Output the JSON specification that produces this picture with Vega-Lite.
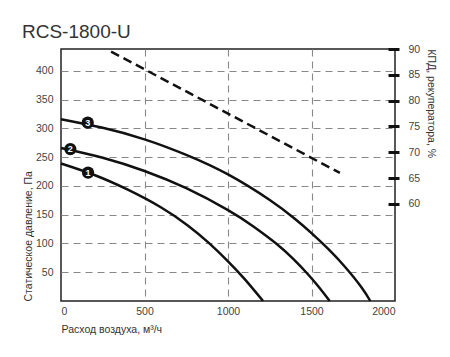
{
  "$schema": "https://vega.github.io/schema/vega-lite/v6.json",
  "width": 334,
  "height": 252,
  "autosize": {"type": "none"},
  "padding": {"left": 61, "top": 49, "right": 55, "bottom": 56},
  "background": "white",
  "config": {
    "font": "Liberation Sans",
    "view": {"stroke": "#222", "strokeWidth": 1.5},
    "axis": {"labelFont": "Liberation Sans", "titleFont": "Liberation Sans", "labelColor": "#444", "titleColor": "#333", "labelFontSize": 10.5, "titleFontSize": 10.5, "titleFontWeight": "normal"}
  },
  "title": {"text": "RCS-1800-U", "anchor": "start", "frame": "group", "dx": -39, "dy": 10, "fontSize": 19, "fontWeight": "normal", "color": "#333", "font": "Liberation Sans", "offset": 12},
  "datasets": {
    "curves": [
      {"flow": 0, "p": 239, "curve": "1"}, {"flow": 200, "p": 219, "curve": "1"}, {"flow": 400, "p": 193.5, "curve": "1"}, {"flow": 600, "p": 162.5, "curve": "1"}, {"flow": 761, "p": 131, "curve": "1"}, {"flow": 885, "p": 101, "curve": "1"}, {"flow": 1000, "p": 69, "curve": "1"}, {"flow": 1100, "p": 38, "curve": "1"}, {"flow": 1210, "p": 0, "curve": "1"},
      {"flow": 0, "p": 266, "curve": "2"}, {"flow": 250, "p": 249, "curve": "2"}, {"flow": 500, "p": 226, "curve": "2"}, {"flow": 750, "p": 196, "curve": "2"}, {"flow": 1000, "p": 158, "curve": "2"}, {"flow": 1150, "p": 130, "curve": "2"}, {"flow": 1290, "p": 99.5, "curve": "2"}, {"flow": 1389, "p": 73.5, "curve": "2"}, {"flow": 1469, "p": 49.5, "curve": "2"}, {"flow": 1539, "p": 26, "curve": "2"}, {"flow": 1609, "p": 0, "curve": "2"},
      {"flow": 0, "p": 316, "curve": "3"}, {"flow": 250, "p": 301, "curve": "3"}, {"flow": 500, "p": 281, "curve": "3"}, {"flow": 750, "p": 254, "curve": "3"}, {"flow": 1000, "p": 220, "curve": "3"}, {"flow": 1250, "p": 175.5, "curve": "3"}, {"flow": 1400, "p": 143, "curve": "3"}, {"flow": 1500, "p": 118, "curve": "3"}, {"flow": 1600, "p": 90.5, "curve": "3"}, {"flow": 1700, "p": 59.5, "curve": "3"}, {"flow": 1800, "p": 23.5, "curve": "3"}, {"flow": 1852, "p": 0, "curve": "3"}
    ],
    "markers": [
      {"flow": 162, "p": 223, "label": "1"},
      {"flow": 56, "p": 264, "label": "2"},
      {"flow": 160, "p": 310, "label": "3"}
    ],
    "eff": [
      {"flow": 300, "eff": 89.5},
      {"flow": 1670, "eff": 66}
    ]
  },
  "encoding": {
    "x": {
      "field": "flow", "type": "quantitative",
      "scale": {"domain": [0, 2000], "nice": false},
      "axis": {
        "values": [0, 500, 1000, 1500, 2000],
        "format": "d",
        "title": "Расход воздуха, м³/ч",
        "titleAnchor": "start", "titleAlign": "left", "titlePadding": 8,
        "domain": false, "ticks": false, "labelPadding": 5,
        "grid": true, "gridColor": "#888", "gridDash": [7, 5], "gridWidth": 1.1,
        "gridOpacity": {"condition": {"test": "datum.value === 0 || datum.value === 2000", "value": 0}, "value": 1}
      }
    }
  },
  "layer": [
    {
      "encoding": {
        "y": {
          "field": "p", "type": "quantitative",
          "scale": {"domain": [0, 438], "nice": false, "zero": true},
          "axis": {
            "values": [50, 100, 150, 200, 250, 300, 350, 400],
            "title": "Статическое давление, Па",
            "titleAnchor": "start", "titlePadding": 2,
            "domain": false, "ticks": false, "labelPadding": 8,
            "grid": true, "gridColor": "#888", "gridDash": [7, 5], "gridWidth": 1.1
          }
        }
      },
      "layer": [
        {
          "data": {"name": "curves"},
          "mark": {"type": "line", "stroke": "#111", "strokeWidth": 2.5, "interpolate": "natural"},
          "encoding": {"detail": {"field": "curve", "type": "nominal"}}
        },
        {
          "data": {"name": "markers"},
          "mark": {"type": "circle", "color": "#111", "opacity": 1, "size": 150}
        },
        {
          "data": {"name": "markers"},
          "mark": {"type": "text", "color": "white", "fontWeight": "bold", "fontSize": 9, "align": "center", "baseline": "middle"},
          "encoding": {"text": {"field": "label"}}
        }
      ]
    },
    {
      "data": {"name": "eff"},
      "mark": {"type": "line", "stroke": "#111", "strokeWidth": 2.5, "strokeDash": [9, 5]},
      "encoding": {
        "y": {
          "field": "eff", "type": "quantitative",
          "scale": {"domain": [41.2, 90], "nice": false, "zero": false},
          "axis": {
            "orient": "right",
            "values": [60, 65, 70, 75, 80, 85, 90],
            "title": "КПД, рекуператора, %",
            "titleAnchor": "end", "titleAlign": "left", "titlePadding": 6,
            "offset": -7, "domain": false,
            "ticks": true, "tickSize": 11, "tickWidth": 3, "tickColor": "#111",
            "labelPadding": 9, "grid": false
          }
        }
      }
    }
  ],
  "resolve": {"scale": {"y": "independent"}}
}
